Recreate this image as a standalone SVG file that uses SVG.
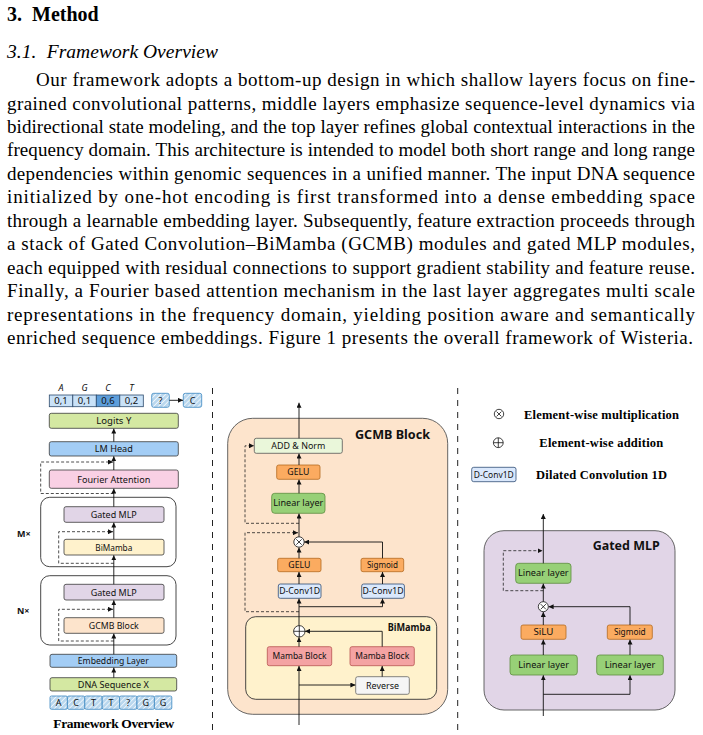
<svg xmlns="http://www.w3.org/2000/svg" width="703" height="735" viewBox="0 0 703 735">
<style>
.p{font-family:"Liberation Serif","Times New Roman",serif;font-size:19px;fill:#000}
.h{font-family:"Liberation Serif","Times New Roman",serif;font-size:20px;font-weight:bold;fill:#000}
.hi{font-family:"Liberation Serif","Times New Roman",serif;font-size:19.5px;font-style:italic;fill:#000}
.lg{font-family:"Liberation Serif","Times New Roman",serif;font-size:12.5px;font-weight:bold;fill:#000}
.cap{font-family:"Liberation Serif","Times New Roman",serif;font-size:13.5px;font-weight:bold;fill:#000;text-anchor:middle}
.t{font-family:"Comic Sans MS","Noto Sans","DejaVu Sans",sans-serif;font-size:9.5px;fill:#111;text-anchor:middle}
.s{font-family:"Comic Sans MS","Noto Sans","DejaVu Sans",sans-serif;font-size:9px;fill:#111;text-anchor:middle}
.b{font-family:"Comic Sans MS","Noto Sans","DejaVu Sans",sans-serif;font-weight:bold;fill:#111}
.bx{stroke:#3a3a3a;stroke-width:0.8}
.ln{stroke:#111;stroke-width:0.9;fill:none;marker-end:url(#ah)}
.da{stroke:#222;stroke-width:0.8;fill:none;stroke-dasharray:3 2;marker-end:url(#ah)}
.sep{stroke:#222;stroke-width:1;stroke-dasharray:6 6}
.lgr{fill:#d4e8a2}.blu{fill:#a3cdf5}.pnk{fill:#f9d0e4}.lav{fill:#e1d5e7}.yel{fill:#fff2cc}.pch{fill:#fde4cc}
.org{fill:#fbab60;stroke:#b46a20;stroke-width:0.8}
.grn{fill:#97d077;stroke:#5d8d3f;stroke-width:0.8}
.dc{fill:#dae8fc;stroke:#2f4d75;stroke-width:0.8}
.mb{fill:#f4a3a3;stroke:#b85450;stroke-width:0.8}
.hc{fill:url(#hatch);stroke:#3a86c0;stroke-width:0.8}
.op{fill:#fff;stroke:#111;stroke-width:0.8}
</style>
<defs>
<marker id="ah" viewBox="0 0 10 10" refX="10" refY="5" markerWidth="5" markerHeight="5" markerUnits="userSpaceOnUse" orient="auto"><path d="M0,0 L10,5 L0,10 z" fill="#111"/></marker>
<pattern id="hatch" patternUnits="userSpaceOnUse" width="3.5" height="3.5" patternTransform="rotate(45)"><rect width="3.5" height="3.5" fill="#b9d7ee"/><line x1="0" y1="0" x2="0" y2="3.5" stroke="#fff" stroke-width="1.4"/></pattern>
</defs>
<rect width="703" height="735" fill="#fff"/>

<g id="text">
<text class="h" y="20.5"><tspan x="7">3.</tspan><tspan x="32">Method</tspan></text>
<text class="hi" y="57.5"><tspan x="7">3.1.</tspan><tspan x="46.7" textLength="171.3" lengthAdjust="spacing">Framework Overview</tspan></text>
<text class="p" x="36" y="86" textLength="659" lengthAdjust="spacing">Our framework adopts a bottom-up design in which shallow layers focus on fine-</text>
<text class="p" x="7" y="109.5" textLength="688" lengthAdjust="spacing">grained convolutional patterns, middle layers emphasize sequence-level dynamics via</text>
<text class="p" x="7" y="132.9" textLength="688" lengthAdjust="spacing">bidirectional state modeling, and the top layer refines global contextual interactions in the</text>
<text class="p" x="7" y="156.4" textLength="688" lengthAdjust="spacing">frequency domain. This architecture is intended to model both short range and long range</text>
<text class="p" x="7" y="179.9" textLength="688" lengthAdjust="spacing">dependencies within genomic sequences in a unified manner. The input DNA sequence</text>
<text class="p" x="7" y="203.4" textLength="688" lengthAdjust="spacing">initialized by one-hot encoding is first transformed into a dense embedding space</text>
<text class="p" x="7" y="226.8" textLength="688" lengthAdjust="spacing">through a learnable embedding layer. Subsequently, feature extraction proceeds through</text>
<text class="p" x="7" y="250.3" textLength="688" lengthAdjust="spacing">a stack of Gated Convolution–BiMamba (GCMB) modules and gated MLP modules,</text>
<text class="p" x="7" y="273.8" textLength="688" lengthAdjust="spacing">each equipped with residual connections to support gradient stability and feature reuse.</text>
<text class="p" x="7" y="297.2" textLength="688" lengthAdjust="spacing">Finally, a Fourier based attention mechanism in the last layer aggregates multi scale</text>
<text class="p" x="7" y="320.7" textLength="688" lengthAdjust="spacing">representations in the frequency domain, yielding position aware and semantically</text>
<text class="p" x="7" y="344.2" textLength="686" lengthAdjust="spacing">enriched sequence embeddings. Figure 1 presents the overall framework of Wisteria.</text>
</g>

<g id="separators">
<line class="sep" x1="212.5" y1="388" x2="212.5" y2="734"/>
<line class="sep" x1="457.7" y1="388" x2="457.7" y2="734"/>
</g>

<g id="containers">
<g id="mblock"><rect x="40.7" y="497.3" width="135.3" height="69.4" rx="9" fill="none" stroke="#333" stroke-width="0.9"/>
<text class="b" x="17" y="536.5" font-size="9">M×</text></g>
<g id="nblock"><rect x="40.7" y="575.7" width="135.3" height="69.3" rx="9" fill="none" stroke="#333" stroke-width="0.9"/>
<text class="b" x="17" y="613.5" font-size="9">N×</text></g>
<g id="gcmb">
<rect x="227.7" y="418.3" width="220" height="296" rx="25" fill="#fde4cc" stroke="#555" stroke-width="0.9"/>
<text class="b" x="355" y="439" font-size="13" textLength="75" lengthAdjust="spacingAndGlyphs">GCMB Block</text>
</g>
<g id="bimamba">
<rect x="245.7" y="616.7" width="191" height="82.6" rx="10" fill="#fff2cc" stroke="#333" stroke-width="0.9"/>
<text class="b" x="387.7" y="631" font-size="10.5" textLength="43" lengthAdjust="spacingAndGlyphs">BiMamba</text>
</g>
<g id="gatedmlp">
<rect x="484" y="530.7" width="191" height="179.3" rx="20" fill="#e1d5e7" stroke="#555" stroke-width="0.9"/>
<text class="b" x="592.7" y="550" font-size="13" textLength="67" lengthAdjust="spacingAndGlyphs">Gated MLP</text>
</g>
</g>

<g id="overview">
<g id="probs">
<text class="s" x="61" y="391" font-style="italic" font-size="6.5">A</text>
<text class="s" x="84.5" y="391" font-style="italic" font-size="6.5">G</text>
<text class="s" x="108" y="391" font-style="italic" font-size="6.5">C</text>
<text class="s" x="131.5" y="391" font-style="italic" font-size="6.5">T</text>
<rect x="49.3" y="395" width="23.5" height="11.7" fill="#c9e2f8" stroke="#2d4a6b" stroke-width="0.8"/>
<rect x="72.8" y="395" width="23.5" height="11.7" fill="#c9e2f8" stroke="#2d4a6b" stroke-width="0.8"/>
<rect x="96.3" y="395" width="23.5" height="11.7" fill="#5d9edb" stroke="#2d4a6b" stroke-width="0.8"/>
<rect x="119.8" y="395" width="23.5" height="11.7" fill="#c9e2f8" stroke="#2d4a6b" stroke-width="0.8"/>
<text class="t" x="61" y="403.9" font-size="8">0,1</text>
<text class="t" x="84.5" y="403.9" font-size="8">0,1</text>
<text class="t" x="108" y="403.9" font-size="8">0,6</text>
<text class="t" x="131.5" y="403.9" font-size="8">0,2</text>
</g>
<g id="qbox"><rect class="hc" x="151.7" y="393.3" width="17.6" height="14" rx="2"/><text class="s" x="160.5" y="403.5">?</text></g>
<g id="cbox"><rect class="hc" x="183.3" y="393.3" width="18.4" height="14" rx="2"/><text class="s" x="192.5" y="403.5">C</text></g>
<g id="logits"><rect class="bx lgr" x="49.3" y="413.3" width="129" height="15" rx="2"/><text class="t" x="113.8" y="424.2" textLength="35" lengthAdjust="spacingAndGlyphs">Logits Y</text></g>
<g id="lmhead"><rect class="bx blu" x="49.3" y="441.7" width="129" height="14.3" rx="2"/><text class="t" x="113.8" y="452.2" textLength="38" lengthAdjust="spacingAndGlyphs">LM Head</text></g>
<g id="fourier"><rect class="bx pnk" x="49.3" y="470" width="129" height="18.3" rx="2"/><text class="t" x="113.8" y="482.6" textLength="73" lengthAdjust="spacingAndGlyphs">Fourier Attention</text></g>
<g id="gmlp1"><rect class="bx lav" x="64" y="506.7" width="100" height="15.6" rx="2"/><text class="t" x="113.8" y="517.8" textLength="46" lengthAdjust="spacingAndGlyphs">Gated MLP</text></g>
<g id="bimamba1"><rect class="bx yel" x="64" y="539.3" width="100" height="15.7" rx="2"/><text class="t" x="113.8" y="550.5" textLength="37" lengthAdjust="spacingAndGlyphs">BiMamba</text></g>
<g id="gmlp2"><rect class="bx lav" x="64" y="584.3" width="100" height="15.7" rx="2"/><text class="t" x="113.8" y="595.5" textLength="46" lengthAdjust="spacingAndGlyphs">Gated MLP</text></g>
<g id="gcmb1"><rect class="bx pch" x="64" y="617.7" width="100" height="15.6" rx="2"/><text class="t" x="113.8" y="628.9" textLength="50" lengthAdjust="spacingAndGlyphs">GCMB Block</text></g>
<g id="embed"><rect class="bx blu" x="50" y="654.3" width="126.7" height="13" rx="2"/><text class="t" x="113.3" y="664.2" textLength="71" lengthAdjust="spacingAndGlyphs">Embedding Layer</text></g>
<g id="dna"><rect class="bx lgr" x="50" y="677.7" width="126.7" height="13.3" rx="2"/><text class="t" x="113.3" y="687.7" textLength="71" lengthAdjust="spacingAndGlyphs">DNA Sequence X</text></g>
<g id="seq">
<rect class="hc" x="50" y="696" width="17.4" height="13.3" rx="1.5"/><text class="s" x="58.7" y="705.8">A</text>
<rect class="hc" x="67.4" y="696" width="17.4" height="13.3" rx="1.5"/><text class="s" x="76.1" y="705.8">C</text>
<rect class="hc" x="84.8" y="696" width="17.4" height="13.3" rx="1.5"/><text class="s" x="93.5" y="705.8">T</text>
<rect class="hc" x="102.2" y="696" width="17.4" height="13.3" rx="1.5"/><text class="s" x="110.9" y="705.8">T</text>
<rect class="hc" x="119.6" y="696" width="17.4" height="13.3" rx="1.5"/><text class="s" x="128.3" y="705.8">?</text>
<rect class="hc" x="137" y="696" width="17.4" height="13.3" rx="1.5"/><text class="s" x="145.7" y="705.8">G</text>
<rect class="hc" x="154.4" y="696" width="17.4" height="13.3" rx="1.5"/><text class="s" x="163.1" y="705.8">G</text>
</g>
<text class="cap" x="113.8" y="727.5" textLength="121" lengthAdjust="spacing">Framework Overview</text>
</g>

<g id="gcmb-nodes">
<g id="addnorm"><rect x="254.3" y="438.3" width="88" height="15" rx="2" fill="#eaf7da" stroke="#555" stroke-width="0.8"/><text class="s" x="298.3" y="449" textLength="54" lengthAdjust="spacingAndGlyphs">ADD &amp; Norm</text></g>
<g id="gelu1"><rect class="org" x="276.7" y="465" width="43.3" height="14.3" rx="2"/><text class="s" x="298.3" y="475.4" textLength="22" lengthAdjust="spacingAndGlyphs">GELU</text></g>
<g id="lin1"><rect class="grn" x="271.7" y="493.3" width="53.3" height="20" rx="3"/><text class="s" x="298.3" y="506.4" textLength="50" lengthAdjust="spacingAndGlyphs">Linear layer</text></g>
<g id="mul1"><circle class="op" cx="299" cy="542" r="5.2"/><path d="M296.3,539.3 L301.7,544.7 M301.7,539.3 L296.3,544.7" stroke="#111" stroke-width="0.8"/></g>
<g id="gelu2"><rect class="org" x="277.7" y="558.3" width="43.3" height="13.4" rx="2"/><text class="s" x="299.3" y="568.2" textLength="22" lengthAdjust="spacingAndGlyphs">GELU</text></g>
<g id="sig1"><rect class="org" x="361" y="558.3" width="42.7" height="13.4" rx="2"/><text class="s" x="382.4" y="568.2" textLength="31" lengthAdjust="spacingAndGlyphs">Sigmoid</text></g>
<g id="dconv1"><rect class="dc" x="278.3" y="584" width="42.7" height="14.3" rx="2"/><text class="s" x="299.7" y="594.4" textLength="41" lengthAdjust="spacingAndGlyphs">D-Conv1D</text></g>
<g id="dconv2"><rect class="dc" x="361.7" y="584" width="42.7" height="14.3" rx="2"/><text class="s" x="383" y="594.4" textLength="41" lengthAdjust="spacingAndGlyphs">D-Conv1D</text></g>
<g id="add1"><circle class="op" cx="299.3" cy="631.3" r="5.7"/><path d="M293.6,631.3 H305 M299.3,625.6 V637" stroke="#111" stroke-width="0.8"/></g>
<g id="mamba1"><rect class="mb" x="267.3" y="646.7" width="64.4" height="19" rx="2"/><text class="s" x="299.5" y="659.4" textLength="54" lengthAdjust="spacingAndGlyphs">Mamba Block</text></g>
<g id="mamba2"><rect class="mb" x="350" y="646.7" width="64.3" height="19" rx="2"/><text class="s" x="382.2" y="659.4" textLength="54" lengthAdjust="spacingAndGlyphs">Mamba Block</text></g>
<g id="reverse"><rect x="355.7" y="676.7" width="53.6" height="17.6" rx="2" fill="#f5f5f5" stroke="#666" stroke-width="0.8"/><text class="s" x="382.5" y="688.7" textLength="33" lengthAdjust="spacingAndGlyphs">Reverse</text></g>
</g>

<g id="legend">
<g id="lg-mul"><circle cx="499" cy="414" r="4.7" fill="#fff" stroke="#111" stroke-width="0.8"/><path d="M496.6,411.6 L501.4,416.4 M501.4,411.6 L496.6,416.4" stroke="#111" stroke-width="0.8"/>
<text class="lg" x="524" y="418.5" textLength="155" lengthAdjust="spacing">Element-wise multiplication</text></g>
<g id="lg-add"><circle cx="498.3" cy="442.7" r="4.9" fill="#fff" stroke="#111" stroke-width="0.8"/><path d="M493.4,442.7 H503.2 M498.3,437.8 V447.6" stroke="#111" stroke-width="0.8"/>
<text class="lg" x="539.3" y="447" textLength="124" lengthAdjust="spacing">Element-wise addition</text></g>
<g id="lg-dconv"><rect class="dc" x="471.7" y="467.3" width="44.3" height="14.4" rx="2"/><text class="s" x="493.8" y="477.7" textLength="40" lengthAdjust="spacingAndGlyphs">D-Conv1D</text>
<text class="lg" x="536" y="478.7" textLength="131" lengthAdjust="spacing">Dilated Convolution 1D</text></g>
</g>

<g id="gmlp-nodes">
<g id="lin2"><rect class="grn" x="515.7" y="563.3" width="55.3" height="20" rx="3"/><text class="s" x="543.3" y="576.4" textLength="50.7" lengthAdjust="spacingAndGlyphs">Linear layer</text></g>
<g id="mul2"><circle class="op" cx="543.3" cy="606.7" r="5"/><path d="M540.7,604.1 L545.9,609.3 M545.9,604.1 L540.7,609.3" stroke="#111" stroke-width="0.8"/></g>
<g id="silu"><rect class="org" x="521" y="625" width="45" height="14.3" rx="2"/><text class="s" x="543.5" y="635.4" textLength="20" lengthAdjust="spacingAndGlyphs">SiLU</text></g>
<g id="sig2"><rect class="org" x="607.3" y="625" width="45" height="14.3" rx="2"/><text class="s" x="629.8" y="635.4" textLength="31.7" lengthAdjust="spacingAndGlyphs">Sigmoid</text></g>
<g id="lin3"><rect class="grn" x="510" y="655" width="67.3" height="20" rx="3"/><text class="s" x="543.6" y="668.1" textLength="50.7" lengthAdjust="spacingAndGlyphs">Linear layer</text></g>
<g id="lin4"><rect class="grn" x="596.7" y="655" width="66.6" height="20" rx="3"/><text class="s" x="630" y="668.1" textLength="50.7" lengthAdjust="spacingAndGlyphs">Linear layer</text></g>
</g>

<g id="connectors">
<path class="ln" d="M169.3,400.3 H183"/>
<path class="ln" d="M113.8,441.7 V428.6"/>
<path class="ln" d="M113.8,470 V456.3"/>
<path class="da" d="M113.8,493.5 H40.7 V462 H113"/>
<path class="ln" d="M113.8,506.7 V488.6"/>
<path class="ln" d="M113.8,539.3 V522.6"/>
<path class="da" d="M113.8,563.3 H58.7 V531.7 H113"/>
<path class="ln" d="M113.8,584.3 V555.3"/>
<path class="ln" d="M113.8,617.7 V600.3"/>
<path class="da" d="M113.8,641 H58.7 V609.3 H113"/>
<path class="ln" d="M113.8,654.3 V633.6"/>
<path class="ln" d="M113.8,677.7 V667.6"/>
<path class="ln" d="M299,438.3 V402.7"/>
<path class="da" d="M299,523.3 H245 V445.8 H254"/>
<path class="ln" d="M299,465 V453.6"/>
<path class="ln" d="M299,493.3 V479.6"/>
<path class="ln" d="M299,536.8 V513.6"/>
<path class="da" d="M299,611.7 H245 V532.7 H298"/>
<path class="ln" d="M382.5,558.3 V542 H304.2"/>
<path class="ln" d="M299,558.3 V547.5"/>
<path class="ln" d="M299,584 V572"/>
<path class="ln" d="M382.5,584 V572"/>
<path class="ln" d="M299,625.6 V598.6"/>
<path class="ln" d="M299,606.7 H382.5 V598.6"/>
<path class="ln" d="M299,646.7 V637.3"/>
<path class="ln" d="M382.2,646.7 V631.3 H305"/>
<path class="ln" d="M382.2,676.7 V666"/>
<path class="ln" d="M299,725 V666"/>
<path class="ln" d="M299,685 H355.4"/>
<path class="ln" d="M543.3,563.3 V514"/>
<path class="da" d="M543.3,590.7 H503.3 V550.7 H542.5"/>
<path class="ln" d="M543.3,601.7 V583.6"/>
<path class="ln" d="M630,625 V606.7 H548.6"/>
<path class="ln" d="M543.3,625 V612"/>
<path class="ln" d="M543.3,655 V639.6"/>
<path class="ln" d="M630,655 V639.6"/>
<path class="ln" d="M543.3,716 V675.3"/>
<path class="ln" d="M543.3,694.3 H630 V675.3"/>
</g>
</svg>
